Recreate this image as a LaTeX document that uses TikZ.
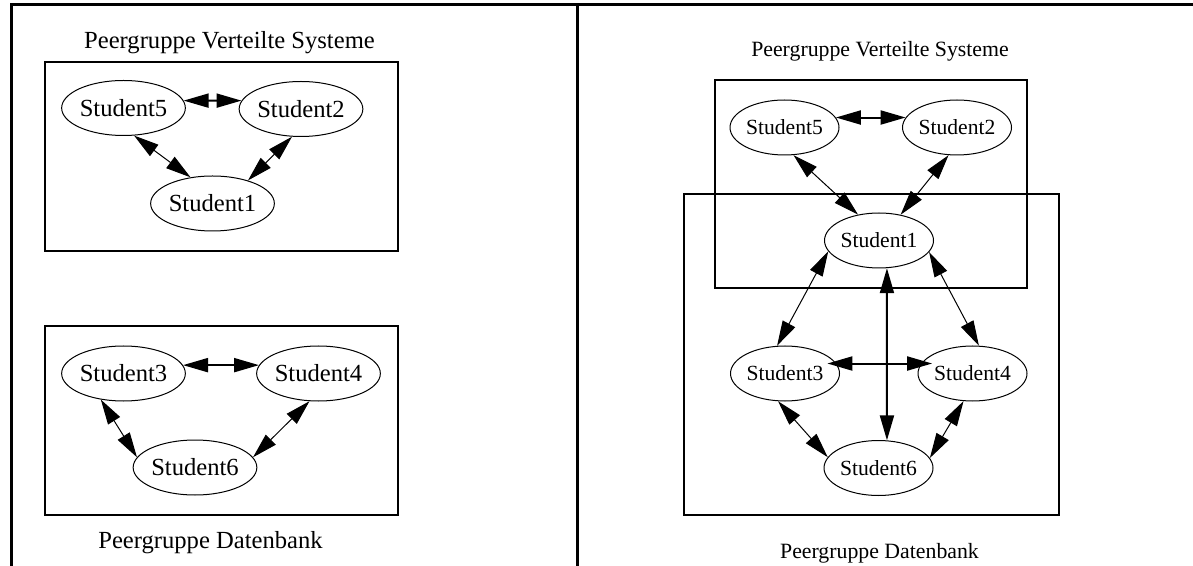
\documentclass[tikz,border=0pt]{standalone}
\usepackage{fontspec}
\setmainfont{Liberation Serif}
\usepackage{tikz}
\usetikzlibrary{shapes.geometric}
\usetikzlibrary{arrows.meta}
\tikzstyle{student}=[ellipse,draw,line width=0.5pt,inner sep=0pt,minimum width=61.8pt,minimum height=27.5pt,font=\fontsize{12.3}{14}\selectfont]
\tikzstyle{smallstudent}=[student,minimum width=54.5pt,font=\fontsize{10.8}{13}\selectfont]
\tikzstyle{biedge} = [draw,line width=0.5pt,<->,>={Triangle[length=12.5pt,width=7pt]}]
\tikzstyle{thickbiedge} = [biedge,line width=1pt]
\tikzstyle{group} = [draw,line width=1.3pt]
\tikzstyle{frame} = [draw,line width=1.5pt]
\tikzstyle{title} = [anchor=base,inner sep=0pt,font=\fontsize{12.3}{14}\selectfont]
\tikzstyle{smalltitle} = [title,font=\fontsize{10.9}{13}\selectfont]

\begin{document}
\begin{tikzpicture}[x=0.5pt,y=-0.5pt]
   \useasboundingbox (0,0) rectangle (1193,566);

   % table lines
   \draw[frame] (11,566) -- (11,4.5) -- (1193,4.5);
   \draw[frame] (577,4.5) -- (577,566);

   % groups
   \draw[group] (45,62) rectangle (398,251);
   \draw[group] (45,326) rectangle (398,515);
   \draw[group] (715,80) rectangle (1027,288);
   \draw[group] (684,194) rectangle (1059,515);

   \node[title] (ltop) at (229.5,49) {Peergruppe Verteilte Systeme};
   \node[title] (lbottom) at (210.5,548) {Peergruppe Datenbank};
   \node[smalltitle] (rtop) at (880,57) {Peergruppe Verteilte Systeme};
   \node[smalltitle] (rbottom) at (879.5,558) {Peergruppe Datenbank};

   \foreach \pos/\name/\label in {{(123.5,108)/s5/5}, {(301,109)/s2/2}, {(212.5,203.5)/s1/1}, {(123.5,373.5)/s3/3}, {(318.5,373.5)/s4/4}, {(195,467.5)/s6/6}}
        \node[student] (\name) at \pos {Student\label};

   \foreach \pos/\name/\label in {{(784.5,127.5)/r5/5}, {(957,127.5)/r2/2}, {(879,240.5)/r1/1}, {(785,373.5)/r3/3}, {(972.5,373.5)/r4/4}, {(878.5,468)/r6/6}}
        \node[smallstudent] (\name) at \pos {Student\label};

    % Connect students with edges
  \foreach \source/\dest/\sa/\da in {s5/s1/-69/130, s2/s1/-108/33, s3/s6/-131/170, s4/s6/-108/10, r5/r1/-72/129, r2/r1/-107/50, r1/r3/-168/106, r1/r4/-13/77, r3/r6/-104/168, r4/r6/-108/11}
          \path[biedge] (\source.\sa) -- (\dest.\da);

  \foreach \source/\dest/\sa/\da in {s5/s2/7/172, s3/s4/8/172, r5/r2/11/169, r1/r6/-74/73}
          \path[thickbiedge] (\source.\sa) -- (\dest.\da);

  \path[thickbiedge, shorten <=-4.5pt, shorten >=-5.5pt] (r3.11) -- (r4.169);

\end{tikzpicture}
\end{document}
